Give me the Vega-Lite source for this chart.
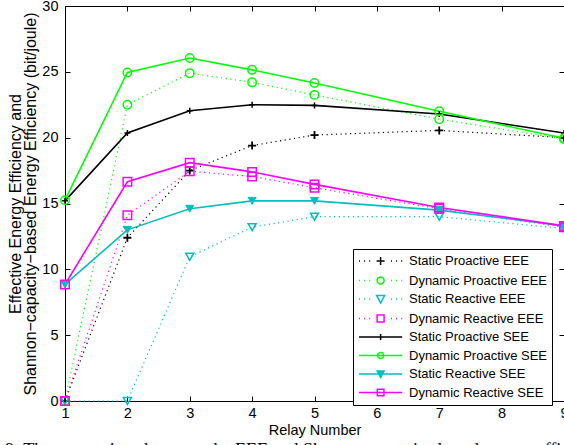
{
  "$schema": "https://vega.github.io/schema/vega-lite/v6.json",
  "width": 499,
  "height": 395,
  "autosize": {"type": "none"},
  "padding": {"left": 65, "top": 6, "right": 0, "bottom": 44},
  "background": "white",
  "config": {
    "view": {"stroke": null},
    "axis": {"grid": false, "domainColor": "black", "tickColor": "black", "labelColor": "black", "titleColor": "black", "labelFont": "Liberation Sans", "titleFont": "Liberation Sans", "titleFontWeight": "normal", "domainWidth": 1, "tickWidth": 1}
  },
  "title": {"text": "9:  The comparison between the EEE and Shannon-capacity-based energy efficiency", "orient": "bottom", "anchor": "start", "frame": "group", "font": "Liberation Serif", "fontSize": 18, "fontWeight": "normal", "color": "black", "dx": -60, "offset": 5, "baseline": "top"},
  "data": {"values": [
    {"relay": 1, "value": 0, "series": "Static Proactive EEE", "kind": "EEE"},
    {"relay": 2, "value": 12.4, "series": "Static Proactive EEE", "kind": "EEE"},
    {"relay": 3, "value": 17.5, "series": "Static Proactive EEE", "kind": "EEE"},
    {"relay": 4, "value": 19.4, "series": "Static Proactive EEE", "kind": "EEE"},
    {"relay": 5, "value": 20.2, "series": "Static Proactive EEE", "kind": "EEE"},
    {"relay": 7, "value": 20.55, "series": "Static Proactive EEE", "kind": "EEE"},
    {"relay": 9, "value": 20.0, "series": "Static Proactive EEE", "kind": "EEE"},
    {"relay": 1, "value": 0, "series": "Dynamic Proactive EEE", "kind": "EEE"},
    {"relay": 2, "value": 22.5, "series": "Dynamic Proactive EEE", "kind": "EEE"},
    {"relay": 3, "value": 24.9, "series": "Dynamic Proactive EEE", "kind": "EEE"},
    {"relay": 4, "value": 24.2, "series": "Dynamic Proactive EEE", "kind": "EEE"},
    {"relay": 5, "value": 23.25, "series": "Dynamic Proactive EEE", "kind": "EEE"},
    {"relay": 7, "value": 21.4, "series": "Dynamic Proactive EEE", "kind": "EEE"},
    {"relay": 9, "value": 19.9, "series": "Dynamic Proactive EEE", "kind": "EEE"},
    {"relay": 1, "value": 0, "series": "Static Reactive EEE", "kind": "EEE"},
    {"relay": 2, "value": 0, "series": "Static Reactive EEE", "kind": "EEE"},
    {"relay": 3, "value": 10.95, "series": "Static Reactive EEE", "kind": "EEE"},
    {"relay": 4, "value": 13.2, "series": "Static Reactive EEE", "kind": "EEE"},
    {"relay": 5, "value": 14.0, "series": "Static Reactive EEE", "kind": "EEE"},
    {"relay": 7, "value": 14.0, "series": "Static Reactive EEE", "kind": "EEE"},
    {"relay": 9, "value": 13.1, "series": "Static Reactive EEE", "kind": "EEE"},
    {"relay": 1, "value": 0, "series": "Dynamic Reactive EEE", "kind": "EEE"},
    {"relay": 2, "value": 14.1, "series": "Dynamic Reactive EEE", "kind": "EEE"},
    {"relay": 3, "value": 17.45, "series": "Dynamic Reactive EEE", "kind": "EEE"},
    {"relay": 4, "value": 17.05, "series": "Dynamic Reactive EEE", "kind": "EEE"},
    {"relay": 5, "value": 16.2, "series": "Dynamic Reactive EEE", "kind": "EEE"},
    {"relay": 7, "value": 14.6, "series": "Dynamic Reactive EEE", "kind": "EEE"},
    {"relay": 9, "value": 13.2, "series": "Dynamic Reactive EEE", "kind": "EEE"},
    {"relay": 1, "value": 15.2, "series": "Static Proactive SEE", "kind": "SEE"},
    {"relay": 2, "value": 20.35, "series": "Static Proactive SEE", "kind": "SEE"},
    {"relay": 3, "value": 22.05, "series": "Static Proactive SEE", "kind": "SEE"},
    {"relay": 4, "value": 22.5, "series": "Static Proactive SEE", "kind": "SEE"},
    {"relay": 5, "value": 22.45, "series": "Static Proactive SEE", "kind": "SEE"},
    {"relay": 7, "value": 21.8, "series": "Static Proactive SEE", "kind": "SEE"},
    {"relay": 9, "value": 20.35, "series": "Static Proactive SEE", "kind": "SEE"},
    {"relay": 1, "value": 15.25, "series": "Dynamic Proactive SEE", "kind": "SEE"},
    {"relay": 2, "value": 24.95, "series": "Dynamic Proactive SEE", "kind": "SEE"},
    {"relay": 3, "value": 26.05, "series": "Dynamic Proactive SEE", "kind": "SEE"},
    {"relay": 4, "value": 25.15, "series": "Dynamic Proactive SEE", "kind": "SEE"},
    {"relay": 5, "value": 24.15, "series": "Dynamic Proactive SEE", "kind": "SEE"},
    {"relay": 7, "value": 22.0, "series": "Dynamic Proactive SEE", "kind": "SEE"},
    {"relay": 9, "value": 19.95, "series": "Dynamic Proactive SEE", "kind": "SEE"},
    {"relay": 1, "value": 8.85, "series": "Static Reactive SEE", "kind": "SEE"},
    {"relay": 2, "value": 13.0, "series": "Static Reactive SEE", "kind": "SEE"},
    {"relay": 3, "value": 14.6, "series": "Static Reactive SEE", "kind": "SEE"},
    {"relay": 4, "value": 15.2, "series": "Static Reactive SEE", "kind": "SEE"},
    {"relay": 5, "value": 15.2, "series": "Static Reactive SEE", "kind": "SEE"},
    {"relay": 7, "value": 14.5, "series": "Static Reactive SEE", "kind": "SEE"},
    {"relay": 9, "value": 13.3, "series": "Static Reactive SEE", "kind": "SEE"},
    {"relay": 1, "value": 8.85, "series": "Dynamic Reactive SEE", "kind": "SEE"},
    {"relay": 2, "value": 16.65, "series": "Dynamic Reactive SEE", "kind": "SEE"},
    {"relay": 3, "value": 18.1, "series": "Dynamic Reactive SEE", "kind": "SEE"},
    {"relay": 4, "value": 17.4, "series": "Dynamic Reactive SEE", "kind": "SEE"},
    {"relay": 5, "value": 16.45, "series": "Dynamic Reactive SEE", "kind": "SEE"},
    {"relay": 7, "value": 14.7, "series": "Dynamic Reactive SEE", "kind": "SEE"},
    {"relay": 9, "value": 13.3, "series": "Dynamic Reactive SEE", "kind": "SEE"}
  ]},
  "layer": [
    {
      "transform": [{"filter": "datum.kind === 'EEE'"}],
      "mark": {"type": "line", "strokeWidth": 1.2, "strokeDash": [1.2, 3.5]},
      "encoding": {
        "x": {"field": "relay", "type": "quantitative", "scale": {"domain": [1, 9], "nice": false, "zero": false},
          "axis": {"orient": "bottom", "values": [1, 2, 3, 4, 5, 6, 7, 8, 9], "format": "d", "tickSize": -5, "labelPadding": 10, "labelFontSize": 14.5, "labelFlush": false, "title": "Relay Number", "titleFontSize": 14.5, "titlePadding": 4}},
        "y": {"field": "value", "type": "quantitative", "scale": {"domain": [0, 30], "nice": false},
          "axis": {"orient": "left", "values": [0, 5, 10, 15, 20, 25, 30], "tickSize": -5, "labelPadding": 12, "labelFontSize": 14.5, "labelFlush": false, "title": ["Effective  Energy Efficiency and", "Shannon−capacity−based Energy Efficiency (bit/joule)"], "titleFontSize": 16, "titleLineHeight": 15, "titlePadding": 3}},
        "color": {"field": "series", "type": "nominal",
          "scale": {"domain": ["Static Proactive EEE", "Dynamic Proactive EEE", "Static Reactive EEE", "Dynamic Reactive EEE", "Static Proactive SEE", "Dynamic Proactive SEE", "Static Reactive SEE", "Dynamic Reactive SEE"],
                    "range": ["#000000", "#00ff00", "#00bfbf", "#ff00ff", "#000000", "#00ff00", "#00bfbf", "#ff00ff"]},
          "legend": {
            "orient": "none", "legendX": 288, "legendY": 243, "title": null, "direction": "vertical",
            "fillColor": "white", "strokeColor": "black", "padding": 5,
            "labelFont": "Liberation Sans", "labelFontSize": 13, "labelColor": "black", "labelLimit": 300,
            "symbolSize": 144, "symbolStrokeWidth": 1.5, "rowPadding": 4.5, "labelOffset": 37,
            "encode": {"symbols": {"update": {
              "shape": {"signal": "({'Static Proactive EEE': 'M-1,0L-0.83,0M-0.15,0L0.02,0M0.7,0L0.87,0M4.33,0L4.5,0M5.18,0L5.35,0M6.03,0L6.2,0M1.93,0L3.27,0M2.6,-0.67L2.6,0.67', 'Dynamic Proactive EEE': 'M-1,0L-0.83,0M-0.15,0L0.02,0M0.7,0L0.87,0M4.33,0L4.5,0M5.18,0L5.35,0M6.03,0L6.2,0M3.18,0A0.58,0.58,0,1,1,2.02,0A0.58,0.58,0,1,1,3.18,0Z', 'Static Reactive EEE': 'M-1,0L-0.83,0M-0.15,0L0.02,0M0.7,0L0.87,0M4.33,0L4.5,0M5.18,0L5.35,0M6.03,0L6.2,0M1.93,-0.58L3.27,-0.58L2.6,0.67Z', 'Dynamic Reactive EEE': 'M-1,0L-0.83,0M-0.15,0L0.02,0M0.7,0L0.87,0M4.33,0L4.5,0M5.18,0L5.35,0M6.03,0L6.2,0M2.02,-0.58L3.18,-0.58L3.18,0.58L2.02,0.58Z', 'Static Proactive SEE': 'M-1,0L6.2,0M2.6,-0.5L2.6,0.5', 'Dynamic Proactive SEE': 'M-1,0L6.2,0M3.1,0A0.5,0.5,0,1,1,2.1,0A0.5,0.5,0,1,1,3.1,0Z', 'Static Reactive SEE': 'M-1,0L6.2,0M2.02,-0.5L3.18,-0.5L2.6,0.58Z', 'Dynamic Reactive SEE': 'M-1,0L6.2,0M2.05,-0.55L3.15,-0.55L3.15,0.55L2.05,0.55Z'})[datum.value]"},
              "fill": {"signal": "datum.value === 'Static Reactive SEE' ? '#00bfbf' : 'transparent'"},
              "strokeDash": {"value": [1, 0]},
              "opacity": {"value": 1}
            }}}
          }}
      }
    },
    {
      "transform": [{"filter": "datum.kind === 'SEE'"}],
      "mark": {"type": "line", "strokeWidth": 1.6},
      "encoding": {
        "x": {"field": "relay", "type": "quantitative", "axis": null},
        "y": {"field": "value", "type": "quantitative", "axis": null},
        "color": {"field": "series", "type": "nominal"}
      }
    },
    {
      "transform": [{"filter": "datum.series === 'Static Proactive EEE'"}],
      "mark": {"type": "point", "shape": "M-1,0L1,0M0,-1L0,1", "filled": false, "color": "#000000", "strokeWidth": 1.8, "size": 64, "opacity": 1},
      "encoding": {
        "x": {"field": "relay", "type": "quantitative",
          "axis": {"orient": "top", "values": [1, 2, 3, 4, 5, 6, 7, 8, 9], "labels": false, "title": null, "tickSize": -5}},
        "y": {"field": "value", "type": "quantitative",
          "axis": {"orient": "right", "values": [0, 5, 10, 15, 20, 25, 30], "labels": false, "title": null, "tickSize": -5}}
      }
    },
    {
      "transform": [{"filter": "datum.series === 'Static Proactive SEE'"}],
      "mark": {"type": "point", "shape": "M-1,0L1,0M0,-1L0,1", "filled": false, "color": "#000000", "strokeWidth": 1.5, "size": 36, "opacity": 1},
      "encoding": {
        "x": {"field": "relay", "type": "quantitative", "axis": null},
        "y": {"field": "value", "type": "quantitative", "axis": null}
      }
    },
    {
      "transform": [{"filter": "datum.series === 'Dynamic Proactive EEE' || datum.series === 'Dynamic Proactive SEE'"}],
      "mark": {"type": "point", "shape": "circle", "filled": false, "color": "#00ff00", "strokeWidth": 1.5, "size": 72, "opacity": 1},
      "encoding": {
        "x": {"field": "relay", "type": "quantitative", "axis": null},
        "y": {"field": "value", "type": "quantitative", "axis": null}
      }
    },
    {
      "transform": [{"filter": "datum.series === 'Static Reactive EEE'"}],
      "mark": {"type": "point", "shape": "triangle-down", "filled": false, "color": "#00bfbf", "strokeWidth": 1.5, "size": 64, "opacity": 1},
      "encoding": {
        "x": {"field": "relay", "type": "quantitative", "axis": null},
        "y": {"field": "value", "type": "quantitative", "axis": null}
      }
    },
    {
      "transform": [{"filter": "datum.series === 'Static Reactive SEE'"}],
      "mark": {"type": "point", "shape": "triangle-down", "filled": true, "color": "#00bfbf", "stroke": "#00bfbf", "strokeWidth": 1, "size": 64, "opacity": 1},
      "encoding": {
        "x": {"field": "relay", "type": "quantitative", "axis": null},
        "y": {"field": "value", "type": "quantitative", "axis": null}
      }
    },
    {
      "transform": [{"filter": "datum.series === 'Dynamic Reactive EEE' || datum.series === 'Dynamic Reactive SEE'"}],
      "mark": {"type": "point", "shape": "square", "filled": false, "color": "#ff00ff", "strokeWidth": 1.5, "size": 72, "opacity": 1},
      "encoding": {
        "x": {"field": "relay", "type": "quantitative", "axis": null},
        "y": {"field": "value", "type": "quantitative", "axis": null}
      }
    }
  ],
  "resolve": {"axis": {"x": "independent", "y": "independent"}}
}
